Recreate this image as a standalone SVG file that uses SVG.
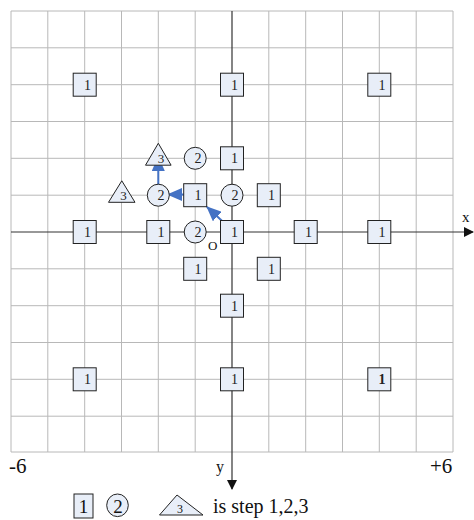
<svg xmlns="http://www.w3.org/2000/svg" width="474" height="520" viewBox="0 0 474 520">
<defs>
<style>
.g{stroke:#b8b8b8;stroke-width:1;fill:none}
.ax{stroke:#333;stroke-width:1.2;fill:none}
.n{fill:#e8eef8;stroke:#222;stroke-width:1}
.t{font-family:"Liberation Serif","Times New Roman",serif;font-size:14px;fill:#222;text-anchor:middle}
.t3{font-family:"Liberation Serif","Times New Roman",serif;font-size:13px;fill:#222;text-anchor:middle}
.lb{font-family:"Liberation Serif","Times New Roman",serif;fill:#111}
.bl{stroke:#4472C4;stroke-width:2;fill:none}
</style>
<marker id="ah" markerWidth="10" markerHeight="10" refX="9" refY="5" orient="auto" markerUnits="userSpaceOnUse"><path d="M0,0 L10,5 L0,10 Z" fill="#111"/></marker>
<marker id="bh" markerWidth="15" markerHeight="13" refX="14" refY="6.5" orient="auto" markerUnits="userSpaceOnUse"><path d="M0,0 L15,6.5 L0,13 Z" fill="#4472C4"/></marker>
<symbol id="sq" overflow="visible"><rect x="-11.5" y="-11.5" width="23" height="23" class="n"/></symbol>
</defs>
<rect width="474" height="520" fill="#fff"/>
<g id="grid">
<path class="g" d="M11,11V452 M47.8,11V452 M84.7,11V452 M121.5,11V452 M158.3,11V452 M195.2,11V452 M268.8,11V452 M305.7,11V452 M342.5,11V452 M379.3,11V452 M416.2,11V452 M453,11V452"/>
<path class="g" d="M11,11H453 M11,47.8H453 M11,84.7H453 M11,121.5H453 M11,158.3H453 M11,195.2H453 M11,268.8H453 M11,305.7H453 M11,342.5H453 M11,379.3H453 M11,416.2H453 M11,452H453"/>
</g>
<g id="axes">
<line class="ax" x1="11" y1="232" x2="473" y2="232" marker-end="url(#ah)"/>
<line class="ax" x1="232" y1="11" x2="232" y2="489" marker-end="url(#ah)"/>
<text class="lb" x="462" y="222" font-size="15">x</text>
<text class="lb" x="216" y="472" font-size="16">y</text>
<text class="lb" x="208" y="250" font-size="13">O</text>
<text class="lb" x="9" y="473" font-size="21">-6</text>
<text class="lb" x="430" y="473" font-size="21">+6</text>
</g>
<g id="connectors">
<line class="bl" x1="233" y1="231" x2="207" y2="207" marker-end="url(#bh)"/>
<line class="bl" x1="196" y1="194.5" x2="168" y2="194.5" marker-end="url(#bh)"/>
<line class="bl" x1="158.3" y1="194" x2="158.3" y2="157" marker-end="url(#bh)"/>
</g>
<g id="n1a"><use href="#sq" x="84.7" y="84.7"/><text class="t" x="87.5" y="89.5">1</text></g>
<g id="n1b"><use href="#sq" x="232" y="84.7"/><text class="t" x="234.5" y="89.5">1</text></g>
<g id="n1c"><use href="#sq" x="379.3" y="84.7"/><text class="t" x="382" y="89.5">1</text></g>
<g id="n1d"><use href="#sq" x="232" y="158.3"/><text class="t" x="234.5" y="163">1</text></g>
<g id="n2a"><circle cx="195.2" cy="158.3" r="11" class="n"/><text class="t" x="198" y="163">2</text></g>
<g id="n3a"><polygon points="158.3,143.3 145.5,165.2 171.1,165.2" class="n"/><text class="t3" x="161" y="163">3</text></g>
<g id="n3b"><polygon points="121.8,180.8 108.5,202.3 135,202.3" class="n"/><text class="t3" x="123.5" y="199.5">3</text></g>
<g id="n2b"><circle cx="158.3" cy="195.2" r="11" class="n"/><text class="t" x="161" y="200">2</text></g>
<g id="n1e"><use href="#sq" x="195.2" y="195.2"/><text class="t" x="198" y="200">1</text></g>
<g id="n2c"><circle cx="232" cy="195.2" r="11" class="n"/><text class="t" x="235" y="200">2</text></g>
<g id="n1f"><use href="#sq" x="268.8" y="195.2"/><text class="t" x="271.5" y="200">1</text></g>
<g id="n1g"><use href="#sq" x="84.7" y="232"/><text class="t" x="87.5" y="236.8">1</text></g>
<g id="n1h"><use href="#sq" x="158.3" y="232"/><text class="t" x="161" y="236.8">1</text></g>
<g id="n2d"><circle cx="195.2" cy="232" r="11" class="n"/><text class="t" x="198" y="236.8">2</text></g>
<g id="n1i"><use href="#sq" x="232" y="232"/><text class="t" x="234.5" y="236.8">1</text></g>
<g id="n1j"><use href="#sq" x="305.7" y="232"/><text class="t" x="308.5" y="236.8">1</text></g>
<g id="n1k"><use href="#sq" x="379.3" y="232"/><text class="t" x="382" y="236.8">1</text></g>
<g id="n1l"><use href="#sq" x="195.2" y="268.8"/><text class="t" x="198" y="273.6">1</text></g>
<g id="n1m"><use href="#sq" x="268.8" y="268.8"/><text class="t" x="271.5" y="273.6">1</text></g>
<g id="n1n"><use href="#sq" x="232" y="305.7"/><text class="t" x="234.5" y="310.5">1</text></g>
<g id="n1o"><use href="#sq" x="84.7" y="379.3"/><text class="t" x="87.5" y="384">1</text></g>
<g id="n1p"><use href="#sq" x="232" y="379.3"/><text class="t" x="234.5" y="384">1</text></g>
<g id="n1q"><use href="#sq" x="379.3" y="379.3"/><text class="t" x="382" y="384" font-weight="bold">1</text></g>
<g id="legend">
<rect x="74" y="494" width="19" height="24" class="n"/>
<text class="lb" x="83.5" y="513" font-size="19" text-anchor="middle">1</text>
<ellipse cx="117.5" cy="505.3" rx="10.8" ry="11.3" class="n"/>
<text class="lb" x="118" y="512.5" font-size="19" text-anchor="middle">2</text>
<polygon points="177,495 159.5,515 203,515" class="n"/>
<text class="lb" x="180" y="513" font-size="12" text-anchor="middle">3</text>
<text class="lb" x="213" y="513" font-size="20">is step 1,2,3</text>
</g>
</svg>
